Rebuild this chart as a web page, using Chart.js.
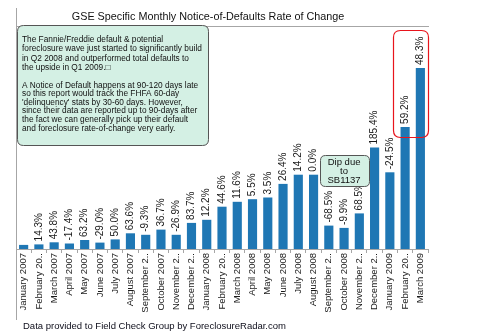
<!DOCTYPE html>
<html>
<head>
<meta charset="utf-8">
<script src="https://cdn.jsdelivr.net/npm/chart.js@4/dist/chart.umd.min.js"></script>
<style>
  html, body { margin: 0; padding: 0; background: #ffffff; }
  #wrap { width: 479px; height: 336px; position: relative; }
</style>
</head>
<body>
<div id="wrap"><canvas id="c" width="479" height="336"></canvas></div>
<script>
// Monthly GSE notice-of-default counts (relative level) and month-over-month change
const months = [
  "January 2007", "February 20..", "March 2007", "April 2007", "May 2007", "June 2007",
  "July 2007", "August 2007", "September 2..", "October 2007", "November 2..", "December 2..",
  "January 2008", "February 20..", "March 2008", "April 2008", "May 2008", "June 2008",
  "July 2008", "August 2008", "September 2..", "October 2008", "November 2..", "December 2..",
  "January 2009", "February 20..", "March 2009"
];
const notices = [
  41, 46, 67, 55, 90, 64, 96, 157, 142, 194, 142, 261,
  292, 423, 472, 498, 515, 651, 743, 743, 234, 211, 356, 1015,
  767, 1221, 1810
];
const changeLabels = [
  "", "14.3%", "43.8%", "-17.4%", "63.2%", "-29.0%", "50.0%", "63.6%", "-9.3%", "36.7%",
  "-26.9%", "83.7%", "12.2%", "44.6%", "11.6%", "5.5%", "3.5%", "26.4%", "14.2%", "0.0%",
  "-68.5%", "-9.9%", "68.5%", "185.4%", "-24.5%", "59.2%", "48.3%"
];
const yMax = 2230;

const chartTitle = "GSE Specific Monthly Notice-of-Defaults Rate of Change";
const footerText = "Data provided to Field Check Group by ForeclosureRadar.com";
const noteLines = [
  "The Fannie/Freddie default & potential",
  "foreclosure wave just started to significantly build",
  "in Q2 2008 and outperformed total defaults to",
  "the upside in Q1 2009.\u25A1",
  "",
  "A Notice of Default happens at 90-120 days late",
  "so this report would track the FHFA 60-day",
  "'delinquency' stats by 30-60 days. However,",
  "since their data are reported up to 90-days after",
  "the fact we can generally pick up their default",
  "and foreclosure rate-of-change very early."
];
const dipLines = ["Dip due", "to", "SB1137"];

const FONT = "'Liberation Sans', Arial, sans-serif";
const LINE = "#a6a6a6";

function roundRect(ctx, x, y, w, h, r) {
  ctx.beginPath();
  ctx.moveTo(x + r, y);
  ctx.lineTo(x + w - r, y);
  ctx.quadraticCurveTo(x + w, y, x + w, y + r);
  ctx.lineTo(x + w, y + h - r);
  ctx.quadraticCurveTo(x + w, y + h, x + w - r, y + h);
  ctx.lineTo(x + r, y + h);
  ctx.quadraticCurveTo(x, y + h, x, y + h - r);
  ctx.lineTo(x, y + r);
  ctx.quadraticCurveTo(x, y, x + r, y);
  ctx.closePath();
}

const decorations = {
  id: 'decorations',
  beforeDatasetsDraw(chart) {
    const ctx = chart.ctx, a = chart.chartArea;
    ctx.save();
    ctx.strokeStyle = LINE;
    ctx.lineWidth = 1;
    ctx.beginPath();
    ctx.moveTo(a.left + 0.5, 8);
    ctx.lineTo(a.left + 0.5, 320);
    ctx.moveTo(a.left, a.top + 0.5);
    ctx.lineTo(a.right + 1, a.top + 0.5);
    ctx.stroke();
    ctx.restore();
  },
  afterDatasetsDraw(chart) {
    const ctx = chart.ctx, a = chart.chartArea;
    const xs = chart.scales.x, ys = chart.scales.y;
    ctx.save();

    // rate-of-change labels above each bar
    const meta = chart.getDatasetMeta(0);
    ctx.font = "10px " + FONT;
    ctx.fillStyle = "#1a1a1a";
    ctx.textAlign = "left";
    ctx.textBaseline = "middle";
    meta.data.forEach((bar, i) => {
      const t = changeLabels[i];
      if (!t) return;
      ctx.save();
      ctx.translate(bar.x, bar.y - 3);
      ctx.rotate(-Math.PI / 2);
      ctx.fillText(t, 0, 0);
      ctx.restore();
    });

    // title
    ctx.font = "10.8px " + FONT;
    ctx.fillStyle = "#111111";
    ctx.textAlign = "center";
    ctx.textBaseline = "middle";
    ctx.fillText(chartTitle, 208, 17);

    // commentary box
    roundRect(ctx, 17.5, 25.5, 191, 120, 6);
    ctx.fillStyle = "#d4f0e4";
    ctx.fill();
    ctx.strokeStyle = "#555555";
    ctx.lineWidth = 1;
    ctx.stroke();
    ctx.font = "8.3px " + FONT;
    ctx.fillStyle = "#111111";
    ctx.textAlign = "left";
    let ly = 40;
    noteLines.forEach((ln, i) => {
      if (ln) ctx.fillText(ln, 22, ly);
      ly += (i < 4) ? 9.2 : 8.6;
    });

    // callout on the Sep/Oct 2008 dip
    const dx = xs.getPixelForValue(21);
    roundRect(ctx, Math.round(dx - 24.5) + 0.5, 155.5, 49, 31, 5);
    ctx.fillStyle = "#d4f0e4";
    ctx.fill();
    ctx.strokeStyle = "#555555";
    ctx.stroke();
    ctx.font = "9.5px " + FONT;
    ctx.fillStyle = "#111111";
    ctx.textAlign = "center";
    dipLines.forEach((ln, i) => ctx.fillText(ln, dx, 162 + i * 9.3));

    // highlight of the last two months
    const rx0 = xs.getPixelForValue(25) - 12;
    const rx1 = xs.getPixelForValue(26) + 8;
    const ry0 = a.top + 4;
    const ry1 = ys.getPixelForValue(1120);
    roundRect(ctx, Math.round(rx0) + 0.5, Math.round(ry0) + 0.5, Math.round(rx1 - rx0), Math.round(ry1 - ry0), 7);
    ctx.strokeStyle = "#e8141c";
    ctx.lineWidth = 1.2;
    ctx.stroke();

    // source line
    ctx.font = "9.5px " + FONT;
    ctx.fillStyle = "#0d0d1a";
    ctx.textAlign = "left";
    ctx.fillText(footerText, 23, 326);
    ctx.restore();
  }
};

new Chart(document.getElementById('c'), {
  type: 'bar',
  data: {
    labels: months,
    datasets: [{
      data: notices,
      backgroundColor: '#1f77b4',
      borderWidth: 0,
      barPercentage: 0.6,
      categoryPercentage: 1.0
    }]
  },
  options: {
    responsive: false,
    animation: false,
    devicePixelRatio: 1,
    layout: { padding: { top: 26, right: 51, left: 0, bottom: 0 } },
    plugins: { legend: { display: false }, tooltip: { enabled: false }, title: { display: false } },
    scales: {
      x: {
        offset: true,
        grid: { display: true, drawOnChartArea: false, tickLength: 4, color: LINE, offset: true },
        border: { display: true, color: LINE },
        ticks: {
          autoSkip: false, minRotation: 90, maxRotation: 90, padding: 0,
          color: '#1a1a1a', font: { family: FONT, size: 9.5 }
        },
        afterFit(s) { s.height = 87; }
      },
      y: {
        min: 0, max: yMax,
        grid: { display: false },
        border: { display: false },
        ticks: { display: false },
        afterFit(s) { s.width = 16; }
      }
    }
  },
  plugins: [decorations]
});
</script>
</body>
</html>
